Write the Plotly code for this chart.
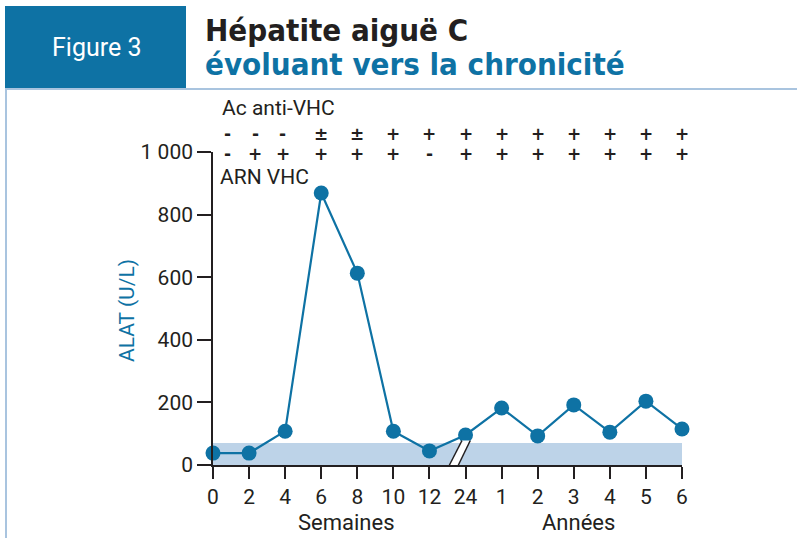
import plotly.graph_objects as go

W, H = 797, 538

# ---- data ----
x_labels = ["0", "2", "4", "6", "8", "10", "12", "24", "1", "2", "3", "4", "5", "6"]
alat = [38, 38, 108, 869, 613, 108, 45, 96, 182, 93, 192, 105, 204, 115]
ac_anti_vhc = ["-", "-", "-", "±", "±", "+", "+", "+", "+", "+", "+", "+", "+", "+"]
arn_vhc = ["-", "+", "+", "+", "+", "+", "-", "+", "+", "+", "+", "+", "+", "+"]
normal_upper = 70
y_ticks = [0, 200, 400, 600, 800, 1000]
y_ticktext = ["0", "200", "400", "600", "800", "1 000"]

BLUE = "#0e72a4"
DARK = "#231f20"
BAND = "#bdd3e8"
LIGHT = "#a9c4df"
FONT = "Roboto"
TFONT = "DejaVu Sans Condensed"

def px(x):
    return x / W

def py(y):
    return 1 - y / H

xs = list(range(len(x_labels)))
# horizontal nudge of the +/- marks (first ones shifted away from the axis)
sign_shift = [0.39, 0.17, -0.06] + [0.0] * (len(xs) - 3)

fig = go.Figure()
fig.add_trace(go.Scatter(
    x=xs, y=alat, mode="lines+markers",
    line=dict(color=BLUE, width=2.2),
    marker=dict(color=BLUE, size=15),
    cliponaxis=False, showlegend=False, hoverinfo="skip",
))

shapes = []
shapes.append(dict(type="rect", xref="x", yref="y", x0=0, x1=len(xs) - 1, y0=0, y1=normal_upper,
                   fillcolor=BAND, line=dict(width=0), layer="below"))
shapes.append(dict(type="rect", xref="paper", yref="paper", x0=px(5), x1=px(186), y0=py(88), y1=py(6),
                   fillcolor=BLUE, line=dict(width=0)))
shapes.append(dict(type="line", xref="paper", yref="paper", x0=px(5), x1=px(797), y0=py(89), y1=py(89),
                   line=dict(color=LIGHT, width=2)))
shapes.append(dict(type="line", xref="paper", yref="paper", x0=px(6), x1=px(6), y0=py(89), y1=py(538),
                   line=dict(color=LIGHT, width=2)))
# axis break
ax0, ax1, bx0, bx1, yb, yt = 6.51, 6.90, 6.76, 7.13, -10, 78
shapes.append(dict(type="path", xref="x", yref="y",
                   path=f"M {ax0},{yb} L {ax1},{yt} L {bx1},{yt} L {bx0},{yb} Z",
                   fillcolor="white", line=dict(width=0)))
shapes.append(dict(type="line", xref="x", yref="y", x0=ax0, y0=yb, x1=ax1, y1=yt,
                   line=dict(color=DARK, width=1.4)))
shapes.append(dict(type="line", xref="x", yref="y", x0=bx0, y0=yb, x1=bx1, y1=yt,
                   line=dict(color=DARK, width=1.4)))

annotations = []
annotations.append(dict(text="Figure 3", xref="paper", yref="paper", x=px(96), y=py(47),
                        showarrow=False, font=dict(family=FONT, size=25, color="white"),
                        xanchor="center", yanchor="middle"))
annotations.append(dict(text="<b>Hépatite aiguë C</b>", xref="paper", yref="paper", x=px(203), y=py(30),
                        showarrow=False, font=dict(family=TFONT, size=31, color=DARK),
                        xanchor="left", yanchor="middle"))
annotations.append(dict(text="<b>évoluant vers la chronicité</b>", xref="paper", yref="paper", x=px(203), y=py(64),
                        showarrow=False, font=dict(family=TFONT, size=31, color=BLUE),
                        xanchor="left", yanchor="middle"))
annotations.append(dict(text="Ac anti-VHC", xref="paper", yref="paper", x=px(220), y=py(108),
                        showarrow=False, font=dict(family=FONT, size=21, color=DARK),
                        xanchor="left", yanchor="middle"))
annotations.append(dict(text="ARN VHC", xref="paper", yref="paper", x=px(218), y=py(177),
                        showarrow=False, font=dict(family=FONT, size=21, color=DARK),
                        xanchor="left", yanchor="middle"))
for i, (a, r) in enumerate(zip(ac_anti_vhc, arn_vhc)):
    annotations.append(dict(text=f"<b>{a}</b>", xref="x", yref="paper", x=xs[i] + sign_shift[i], y=py(134),
                            showarrow=False, font=dict(family="DejaVu Sans", size=17, color=DARK),
                            xanchor="center", yanchor="middle"))
    annotations.append(dict(text=f"<b>{r}</b>", xref="x", yref="paper", x=xs[i] + sign_shift[i], y=py(154),
                            showarrow=False, font=dict(family="DejaVu Sans", size=17, color=DARK),
                            xanchor="center", yanchor="middle"))
annotations.append(dict(text="Semaines", xref="paper", yref="paper", x=px(346), y=py(522),
                        showarrow=False, font=dict(family=FONT, size=22, color=DARK),
                        xanchor="center", yanchor="middle"))
annotations.append(dict(text="Années", xref="paper", yref="paper", x=px(578), y=py(522),
                        showarrow=False, font=dict(family=FONT, size=22, color=DARK),
                        xanchor="center", yanchor="middle"))
annotations.append(dict(text="ALAT (U/L)", xref="paper", yref="paper", x=px(127), y=py(311),
                        showarrow=False, textangle=-90, font=dict(family=FONT, size=21, color=BLUE),
                        xanchor="center", yanchor="middle"))

fig.update_layout(
    width=W, height=H,
    margin=dict(l=0, r=0, t=0, b=0, pad=0, autoexpand=False),
    paper_bgcolor="white", plot_bgcolor="rgba(0,0,0,0)",
    shapes=shapes, annotations=annotations,
    xaxis=dict(domain=[px(213), px(682)], range=[0, len(xs) - 1], automargin=False,
               tickvals=xs, ticktext=x_labels, ticks="outside", ticklen=12, tickwidth=1.6,
               tickcolor=DARK, showline=True, linecolor=DARK, linewidth=1.6,
               showgrid=False, zeroline=False,
               tickfont=dict(family=FONT, size=21, color=DARK)),
    yaxis=dict(domain=[py(465), py(152)], range=[0, 1000], automargin=False,
               tickvals=y_ticks, ticktext=y_ticktext, ticks="outside", ticklen=14, tickwidth=1.6,
               tickcolor=DARK, showline=True, linecolor=DARK, linewidth=1.6,
               showgrid=False, zeroline=False,
               tickfont=dict(family=FONT, size=21, color=DARK)),
)

fig.write_html("out.html", config={"displayModeBar": False},
               post_script="document.body.style.margin='0';document.body.style.overflow='hidden';")
